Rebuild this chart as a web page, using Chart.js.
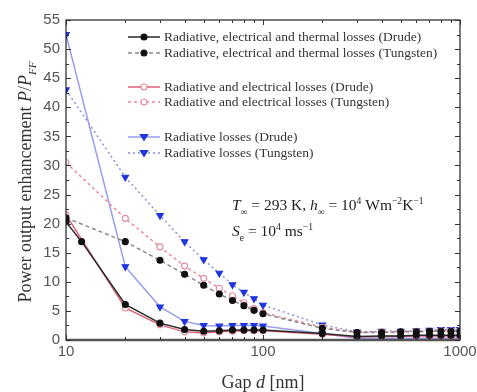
<!DOCTYPE html>
<html>
<head>
<meta charset="utf-8">
<script src="https://cdn.jsdelivr.net/npm/chart.js@4"></script>
<style>
  html, body { margin: 0; padding: 0; background: #fff; }
  #wrap { width: 477px; height: 392px; }
</style>
</head>
<body>
<div id="wrap"><canvas id="chart" width="477" height="392"></canvas></div>
<script>
'use strict';

// ── DATA ──────────────────────────────────────────────────────────────────────
const GAP      = [10, 20, 30, 40, 50, 60, 70, 80, 90, 100, 200, 300, 400, 500, 600, 700, 800, 900, 1000];
const GAP_FINE = [10, 12, 20, 30, 40, 50, 60, 70, 80, 90, 100, 200, 300, 400, 500, 600, 700, 800, 900, 1000];

const RET_DRUDE    = [20.3, 16.9, 6.1, 2.9, 1.8, 1.5, 1.6, 1.7, 1.7, 1.7, 1.7, 1.1, 0.6, 0.7, 0.7, 0.8, 0.8, 0.8, 0.8, 0.8];
const RET_TUNGSTEN = [21.0, 16.9, 13.7, 11.3, 9.4, 7.9, 6.8, 5.9, 5.1, 4.5, 2.0, 1.3, 1.3, 1.4, 1.4, 1.5, 1.5, 1.5, 1.5];
const RE_DRUDE     = [21.5, 5.5, 2.6, 1.4, 1.2, 1.4, 1.5, 1.6, 1.6, 1.6, 1.0, 0.5, 0.6, 0.6, 0.7, 0.7, 0.7, 0.7, 0.7];
const RE_TUNGSTEN  = [30.5, 20.9, 16.0, 12.7, 10.6, 8.9, 7.6, 6.4, 5.4, 4.7, 2.2, 1.3, 1.4, 1.4, 1.5, 1.5, 1.6, 1.6, 1.6];
const R_DRUDE      = [52.5, 12.6, 5.7, 3.2, 2.5, 2.4, 2.5, 2.5, 2.5, 2.4, 1.1, 0.3, 0.3, 0.3, 0.3, 0.3, 0.3, 0.3, 0.3];
const R_TUNGSTEN   = [43.0, 28.0, 21.4, 16.9, 13.8, 11.5, 9.5, 8.2, 7.1, 6.0, 2.6, 1.4, 1.5, 1.5, 1.6, 1.7, 1.8, 1.8, 1.8];

const X_MAJOR = [10, 100, 1000];
const X_MINOR = [20, 30, 40, 50, 60, 70, 80, 90, 200, 300, 400, 500, 600, 700, 800, 900];
const Y_MAJOR = [0, 5, 10, 15, 20, 25, 30, 35, 40, 45, 50, 55];
const Y_MINOR = [2.5, 7.5, 12.5, 17.5, 22.5, 27.5, 32.5, 37.5, 42.5, 47.5, 52.5];

const LABELS = [
  'Radiative, electrical and thermal losses (Drude)',
  'Radiative, electrical and thermal losses (Tungsten)',
  'Radiative and electrical losses (Drude)',
  'Radiative and electrical losses (Tungsten)',
  'Radiative losses (Drude)',
  'Radiative losses (Tungsten)',
];

// ── HELPERS ───────────────────────────────────────────────────────────────────
const pts = (xs, ys) => xs.map((x, i) => ({ x, y: ys[i] }));

function series(label, xs, ys, o) {
  return {
    label,
    data: pts(xs, ys),
    showLine: true,
    borderColor: o.line,
    borderWidth: 1.5,
    borderDash: o.dash || [],
    pointStyle: o.shape || 'circle',
    rotation: o.rot || 0,
    pointRadius: o.r || 3,
    pointBackgroundColor: o.fill,
    pointBorderColor: o.edge,
    pointBorderWidth: 1.1,
    tension: 0,
  };
}

const SERIF = '"Liberation Serif", "DejaVu Serif", serif';
const SANS  = '"Liberation Sans", Arial, sans-serif';

// draw text made of parts {t, i (italic), sub, sup}
function richWidth(ctx, parts, size) {
  let w = 0;
  parts.forEach(p => {
    const s = (p.sub || p.sup) ? size * 0.62 : size;
    ctx.font = `${p.i ? 'italic ' : ''}${s}px ${SERIF}`;
    w += ctx.measureText(p.t).width;
  });
  return w;
}
function drawRich(ctx, x, y, parts, size) {
  parts.forEach(p => {
    const s = (p.sub || p.sup) ? size * 0.62 : size;
    const dy = p.sub ? size * 0.3 : p.sup ? -size * 0.38 : 0;
    ctx.font = `${p.i ? 'italic ' : ''}${s}px ${SERIF}`;
    ctx.fillText(p.t, x, y + dy);
    x += ctx.measureText(p.t).width;
  });
}

// ── DECORATION PLUGIN: frame, inward ticks, legend, titles, annotation ───────
const decor = {
  id: 'decor',
  afterDatasetsDraw(chart) {
    const { ctx, chartArea: a, scales: { x, y } } = chart;
    ctx.save();

    // frame
    ctx.strokeStyle = '#222';
    ctx.lineWidth = 1.2;
    ctx.strokeRect(a.left, a.top, a.right - a.left, a.bottom - a.top);
    ctx.strokeStyle = '#555';
    ctx.lineWidth = 2.5;
    ctx.beginPath(); ctx.moveTo(a.left, a.bottom); ctx.lineTo(a.right, a.bottom); ctx.stroke();

    // inward ticks
    ctx.strokeStyle = '#333';
    ctx.lineWidth = 1;
    const tick = (x1, y1, x2, y2) => { ctx.beginPath(); ctx.moveTo(x1, y1); ctx.lineTo(x2, y2); ctx.stroke(); };
    X_MAJOR.concat(X_MINOR).forEach(v => {
      const len = X_MAJOR.includes(v) ? 5 : 3;
      const px = Math.round(x.getPixelForValue(v)) + 0.5;
      tick(px, a.bottom, px, a.bottom - len);
      tick(px, a.top, px, a.top + len);
    });
    Y_MAJOR.concat(Y_MINOR).forEach(v => {
      const len = Y_MAJOR.includes(v) ? 5 : 3;
      const py = Math.round(y.getPixelForValue(v)) + 0.5;
      tick(a.left, py, a.left + len, py);
      tick(a.right, py, a.right - len, py);
    });

    // legend
    const rows = [37, 53, 87, 102, 137, 153];
    chart.data.datasets.forEach((ds, i) => {
      const ly = rows[i];
      ctx.strokeStyle = ds.borderColor;
      ctx.lineWidth = 1.5;
      ctx.setLineDash(ds.borderDash);
      tick(128, ly, 160, ly);
      ctx.setLineDash([]);
      ctx.fillStyle = ds.pointBackgroundColor;
      ctx.strokeStyle = ds.pointBorderColor;
      ctx.lineWidth = ds.pointBorderWidth;
      ctx.beginPath();
      if (ds.pointStyle === 'circle') ctx.arc(144, ly, ds.pointRadius, 0, Math.PI * 2);
      else { ctx.moveTo(144 - 3.8, ly - 2.5); ctx.lineTo(144 + 3.8, ly - 2.5); ctx.lineTo(144, ly + 3.5); ctx.closePath(); }
      ctx.fill(); ctx.stroke();
      ctx.fillStyle = '#333';
      ctx.font = `13.5px ${SERIF}`;
      ctx.textBaseline = 'middle';
      ctx.textAlign = 'left';
      ctx.fillText(ds.label, 164, ly);
    });

    // annotation
    ctx.fillStyle = '#222';
    ctx.textBaseline = 'alphabetic';
    drawRich(ctx, 232, 210, [
      { t: 'T', i: true }, { t: '∞', sub: true }, { t: ' = 293 K, ' },
      { t: 'h', i: true }, { t: '∞', sub: true }, { t: ' = 10' }, { t: '4', sup: true },
      { t: ' Wm' }, { t: '−2', sup: true }, { t: 'K' }, { t: '−1', sup: true },
    ], 15.5);
    drawRich(ctx, 232, 236, [
      { t: 'S', i: true }, { t: 'e', sub: true }, { t: ' = 10' }, { t: '4', sup: true },
      { t: ' ms' }, { t: '−1', sup: true },
    ], 15.5);

    // axis titles
    ctx.fillStyle = '#333';
    const xt = [{ t: 'Gap ' }, { t: 'd', i: true }, { t: ' [nm]' }];
    const xw = richWidth(ctx, xt, 18);
    drawRich(ctx, (a.left + a.right) / 2 - xw / 2, 388, xt, 18);

    const yt = [{ t: 'Power output enhancement ' }, { t: 'P', i: true }, { t: '/' },
                { t: 'P', i: true }, { t: 'FF', i: true, sub: true }];
    const yw = richWidth(ctx, yt, 18);
    ctx.translate(31, 182);
    ctx.rotate(-Math.PI / 2);
    drawRich(ctx, -yw / 2, 0, yt, 18);

    ctx.restore();
  },
};

// ── CHART ─────────────────────────────────────────────────────────────────────
const BLUE = '#1f35e0';

new Chart(document.getElementById('chart'), {
  type: 'scatter',
  data: {
    datasets: [
      series(LABELS[0], GAP_FINE, RET_DRUDE, { line: '#2a2a2a', fill: '#111', edge: '#111' }),
      series(LABELS[1], GAP, RET_TUNGSTEN, { line: '#888', dash: [4, 3], fill: '#111', edge: '#111' }),
      series(LABELS[2], GAP, RE_DRUDE, { line: '#e0607a', fill: '#fff', edge: '#e58a9a' }),
      series(LABELS[3], GAP, RE_TUNGSTEN, { line: '#ea8a98', dash: [3, 3], fill: '#fff', edge: '#e58a9a' }),
      series(LABELS[4], GAP, R_DRUDE, { line: '#9a9cf0', fill: BLUE, edge: BLUE, shape: 'triangle', rot: 180, r: 3.8 }),
      series(LABELS[5], GAP, R_TUNGSTEN, { line: '#8a93d8', dash: [2, 3], fill: BLUE, edge: BLUE, shape: 'triangle', rot: 180, r: 3.8 }),
    ],
  },
  options: {
    responsive: false,
    animation: false,
    layout: { padding: { left: 0, top: 20, right: 17, bottom: 0 } },
    plugins: { legend: { display: false }, tooltip: { enabled: false } },
    scales: {
      x: {
        type: 'logarithmic',
        min: 10,
        max: 1000,
        afterBuildTicks: s => { s.ticks = X_MAJOR.map(v => ({ value: v })); },
        afterFit: s => { s.height = 52; s.paddingLeft = 0; s.paddingRight = 0; },
        ticks: {
          autoSkip: false, maxRotation: 0, padding: 3,
          color: '#555', font: { family: SANS, size: 15 },
          callback: v => String(v),
        },
        grid: { display: false, drawTicks: false, tickLength: 0 },
        border: { display: false },
      },
      y: {
        min: 0,
        max: 55,
        afterBuildTicks: s => { s.ticks = Y_MAJOR.map(v => ({ value: v })); },
        afterFit: s => { s.width = 66; },
        ticks: { padding: 6, color: '#555', font: { family: SANS, size: 15 } },
        grid: { display: false, drawTicks: false, tickLength: 0 },
        border: { display: false },
      },
    },
  },
  plugins: [decor],
});
</script>
</body>
</html>
